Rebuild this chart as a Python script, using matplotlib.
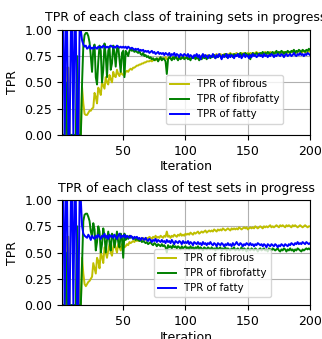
import matplotlib
matplotlib.use("Agg")
import matplotlib.pyplot as plt
import numpy as np

iterations = np.arange(1, 201)

# training TPR per class
train_fibrous = [
    0.0, 0.0, 0.0, 0.0, 0.64, 0.64, 0.0, 0.0, 0.0, 0.0, 0.0, 0.0, 0.45, 0.45, 0.0, 0.0, 0.45, 0.3, 0.2, 0.19,
    0.19, 0.21, 0.23, 0.23, 0.25, 0.26, 0.4, 0.36, 0.3, 0.45, 0.42, 0.38, 0.5, 0.47, 0.44, 0.55, 0.5, 0.48, 0.57, 0.53,
    0.5, 0.6, 0.56, 0.55, 0.62, 0.58, 0.56, 0.6, 0.58, 0.57, 0.57, 0.6, 0.61, 0.6, 0.62, 0.63, 0.62, 0.64, 0.64, 0.65,
    0.66, 0.66, 0.67, 0.67, 0.68, 0.68, 0.69, 0.69, 0.7, 0.7, 0.7, 0.71, 0.7, 0.71, 0.72, 0.71, 0.72, 0.72, 0.73, 0.72,
    0.73, 0.72, 0.73, 0.74, 0.72, 0.73, 0.74, 0.73, 0.72, 0.74, 0.73, 0.74, 0.73, 0.72, 0.74, 0.73, 0.74, 0.73, 0.74, 0.73,
    0.74, 0.73, 0.74, 0.75, 0.73, 0.74, 0.75, 0.74, 0.73, 0.75, 0.74, 0.75, 0.74, 0.75, 0.76, 0.74, 0.75, 0.76, 0.75, 0.74,
    0.75, 0.76, 0.75, 0.76, 0.77, 0.75, 0.76, 0.77, 0.76, 0.75, 0.77, 0.76, 0.77, 0.76, 0.77, 0.78, 0.76, 0.77, 0.76, 0.77,
    0.78, 0.77, 0.76, 0.77, 0.78, 0.77, 0.78, 0.77, 0.76, 0.78, 0.77, 0.78, 0.77, 0.78, 0.77, 0.78, 0.79, 0.77, 0.78, 0.77,
    0.78, 0.77, 0.78, 0.79, 0.78, 0.77, 0.78, 0.79, 0.78, 0.77, 0.78, 0.79, 0.78, 0.79, 0.78, 0.77, 0.79, 0.78, 0.79, 0.78,
    0.79, 0.78, 0.79, 0.78, 0.79, 0.8, 0.78, 0.79, 0.78, 0.79, 0.8, 0.79, 0.78, 0.79, 0.8, 0.79, 0.78, 0.79, 0.8, 0.79,
]
train_fibrofatty = [
    0.0, 0.0, 0.0, 0.5, 0.0, 0.0, 0.0, 0.0, 0.0, 0.0, 0.0, 0.0, 0.75, 0.0, 0.0, 0.0, 0.5, 0.85, 0.95, 0.97,
    0.97, 0.94, 0.88, 0.75, 0.6, 0.82, 0.86, 0.55, 0.48, 0.7, 0.85, 0.8, 0.5, 0.62, 0.87, 0.75, 0.55, 0.8, 0.84, 0.62,
    0.68, 0.85, 0.78, 0.65, 0.82, 0.84, 0.72, 0.6, 0.78, 0.8, 0.55, 0.8, 0.78, 0.75, 0.8, 0.82, 0.8, 0.81, 0.79, 0.8,
    0.79, 0.78, 0.8, 0.77, 0.76, 0.78, 0.75, 0.76, 0.74, 0.75, 0.73, 0.74, 0.72, 0.73, 0.71, 0.72, 0.73, 0.7, 0.72, 0.74,
    0.71, 0.73, 0.72, 0.7, 0.58, 0.72, 0.74, 0.73, 0.71, 0.74, 0.72, 0.75, 0.73, 0.71, 0.74, 0.72, 0.73, 0.75, 0.72, 0.73,
    0.74, 0.72, 0.73, 0.71, 0.74, 0.73, 0.75, 0.72, 0.74, 0.73, 0.71, 0.74, 0.72, 0.75, 0.73, 0.74, 0.72, 0.75, 0.74, 0.73,
    0.75, 0.74, 0.76, 0.73, 0.75, 0.74, 0.76, 0.75, 0.73, 0.76, 0.75, 0.77, 0.74, 0.76, 0.75, 0.77, 0.76, 0.74, 0.77, 0.76,
    0.75, 0.77, 0.76, 0.78, 0.75, 0.77, 0.76, 0.78, 0.77, 0.75, 0.77, 0.72, 0.76, 0.78, 0.77, 0.76, 0.78, 0.77, 0.76, 0.78,
    0.77, 0.79, 0.76, 0.78, 0.77, 0.79, 0.78, 0.76, 0.78, 0.79, 0.77, 0.78, 0.8, 0.77, 0.79, 0.78, 0.8, 0.79, 0.77, 0.79,
    0.78, 0.8, 0.79, 0.78, 0.8, 0.79, 0.81, 0.78, 0.8, 0.79, 0.81, 0.8, 0.79, 0.81, 0.8, 0.79, 0.81, 0.8, 0.82, 0.81,
]
train_fatty = [
    1.0, 1.0, 0.0, 1.0, 1.0, 0.0, 0.0, 1.0, 1.0, 0.0, 1.0, 1.0, 0.0, 0.0, 1.0, 1.0, 0.9, 0.86, 0.84, 0.85,
    0.82, 0.83, 0.85, 0.82, 0.83, 0.82, 0.84, 0.83, 0.82, 0.84, 0.83, 0.84, 0.83, 0.85, 0.84, 0.83, 0.84, 0.83, 0.84, 0.85,
    0.84, 0.83, 0.84, 0.83, 0.85, 0.84, 0.83, 0.84, 0.83, 0.84, 0.83, 0.84, 0.82, 0.84, 0.83, 0.82, 0.83, 0.82, 0.81, 0.82,
    0.81, 0.82, 0.8, 0.81, 0.8, 0.81, 0.79, 0.8, 0.79, 0.8, 0.78, 0.79, 0.8, 0.78, 0.79, 0.77, 0.78, 0.79, 0.77, 0.78,
    0.77, 0.78, 0.76, 0.78, 0.77, 0.76, 0.78, 0.75, 0.77, 0.76, 0.78, 0.75, 0.77, 0.76, 0.74, 0.77, 0.76, 0.75, 0.77, 0.76,
    0.75, 0.77, 0.74, 0.76, 0.75, 0.73, 0.76, 0.75, 0.77, 0.74, 0.76, 0.72, 0.75, 0.77, 0.74, 0.76, 0.75, 0.73, 0.76, 0.75,
    0.74, 0.77, 0.75, 0.73, 0.76, 0.74, 0.77, 0.75, 0.72, 0.76, 0.74, 0.75, 0.77, 0.73, 0.76, 0.74, 0.76, 0.75, 0.73, 0.76,
    0.75, 0.77, 0.74, 0.76, 0.73, 0.75, 0.77, 0.74, 0.76, 0.75, 0.73, 0.76, 0.74, 0.77, 0.75, 0.76, 0.74, 0.75, 0.77, 0.75,
    0.76, 0.74, 0.77, 0.75, 0.76, 0.74, 0.76, 0.75, 0.77, 0.76, 0.74, 0.76, 0.75, 0.77, 0.76, 0.75, 0.77, 0.76, 0.74, 0.76,
    0.77, 0.75, 0.76, 0.77, 0.75, 0.76, 0.78, 0.76, 0.75, 0.77, 0.76, 0.78, 0.76, 0.77, 0.75, 0.77, 0.76, 0.78, 0.77, 0.76,
]

# test TPR per class
test_fibrous = [
    0.0, 0.0, 0.0, 0.0, 0.65, 0.65, 0.0, 0.0, 0.0, 0.0, 0.0, 0.0, 0.45, 0.45, 0.0, 0.0, 0.45, 0.3, 0.2, 0.18,
    0.2, 0.22, 0.23, 0.25, 0.27, 0.4, 0.35, 0.3, 0.45, 0.42, 0.35, 0.5, 0.46, 0.4, 0.55, 0.5, 0.45, 0.52, 0.58, 0.5,
    0.47, 0.55, 0.6, 0.54, 0.5, 0.58, 0.55, 0.52, 0.58, 0.55, 0.55, 0.56, 0.58, 0.57, 0.6, 0.59, 0.6, 0.61, 0.6, 0.62,
    0.61, 0.62, 0.61, 0.63, 0.62, 0.64, 0.63, 0.62, 0.64, 0.63, 0.65, 0.64, 0.63, 0.65, 0.64, 0.66, 0.64, 0.65, 0.64, 0.66,
    0.65, 0.64, 0.66, 0.65, 0.7, 0.65, 0.66, 0.64, 0.66, 0.65, 0.67, 0.66, 0.65, 0.67, 0.66, 0.68, 0.66, 0.67, 0.66, 0.68,
    0.67, 0.68, 0.67, 0.69, 0.68, 0.67, 0.69, 0.68, 0.69, 0.7, 0.68, 0.69, 0.7, 0.69, 0.7, 0.71, 0.69, 0.7, 0.71, 0.7,
    0.71, 0.7, 0.72, 0.71, 0.7, 0.72, 0.71, 0.72, 0.71, 0.73, 0.72, 0.71, 0.72, 0.73, 0.72, 0.71, 0.73, 0.72, 0.73, 0.72,
    0.73, 0.72, 0.74, 0.73, 0.72, 0.73, 0.74, 0.73, 0.74, 0.72, 0.73, 0.74, 0.73, 0.74, 0.73, 0.75, 0.74, 0.73, 0.74, 0.75,
    0.74, 0.73, 0.75, 0.74, 0.75, 0.74, 0.75, 0.76, 0.74, 0.75, 0.74, 0.75, 0.76, 0.75, 0.74, 0.76, 0.75, 0.76, 0.75, 0.74,
    0.76, 0.75, 0.76, 0.75, 0.74, 0.76, 0.75, 0.76, 0.75, 0.74, 0.75, 0.76, 0.75, 0.74, 0.75, 0.76, 0.75, 0.74, 0.75, 0.75,
]
test_fibrofatty = [
    0.0, 0.0, 0.0, 0.5, 0.0, 0.0, 0.0, 0.0, 0.0, 0.0, 0.0, 0.0, 0.75, 0.0, 0.0, 0.0, 0.4, 0.8, 0.86, 0.87,
    0.87, 0.84, 0.8, 0.7, 0.65, 0.78, 0.72, 0.52, 0.6, 0.75, 0.7, 0.5, 0.58, 0.73, 0.66, 0.5, 0.62, 0.7, 0.6, 0.52,
    0.68, 0.66, 0.55, 0.62, 0.7, 0.6, 0.55, 0.68, 0.64, 0.45, 0.68, 0.62, 0.65, 0.63, 0.66, 0.64, 0.65, 0.63, 0.64, 0.62,
    0.63, 0.62, 0.61, 0.62, 0.6, 0.61, 0.6, 0.59, 0.6, 0.58, 0.59, 0.6, 0.58, 0.57, 0.59, 0.58, 0.56, 0.58, 0.57, 0.56,
    0.58, 0.56, 0.57, 0.55, 0.5, 0.57, 0.55, 0.56, 0.54, 0.57, 0.55, 0.56, 0.54, 0.56, 0.55, 0.53, 0.56, 0.54, 0.55, 0.56,
    0.54, 0.55, 0.53, 0.56, 0.54, 0.55, 0.53, 0.55, 0.54, 0.56, 0.53, 0.55, 0.54, 0.52, 0.55, 0.54, 0.53, 0.55, 0.54, 0.53,
    0.55, 0.53, 0.54, 0.52, 0.55, 0.53, 0.54, 0.55, 0.52, 0.54, 0.53, 0.55, 0.52, 0.54, 0.53, 0.52, 0.54, 0.53, 0.55, 0.52,
    0.53, 0.54, 0.52, 0.53, 0.55, 0.52, 0.54, 0.53, 0.51, 0.54, 0.53, 0.52, 0.54, 0.53, 0.52, 0.54, 0.53, 0.51, 0.53, 0.54,
    0.52, 0.53, 0.54, 0.52, 0.53, 0.51, 0.54, 0.53, 0.52, 0.54, 0.53, 0.52, 0.53, 0.54, 0.52, 0.51, 0.53, 0.52, 0.54, 0.53,
    0.51, 0.53, 0.52, 0.54, 0.52, 0.53, 0.51, 0.53, 0.52, 0.54, 0.53, 0.52, 0.51, 0.53, 0.52, 0.53, 0.54, 0.53, 0.54, 0.53,
]
test_fatty = [
    1.0, 1.0, 0.0, 1.0, 1.0, 0.0, 0.0, 1.0, 1.0, 0.0, 1.0, 1.0, 0.0, 0.0, 1.0, 1.0, 0.75, 0.68, 0.66, 0.65,
    0.64, 0.67, 0.65, 0.62, 0.66, 0.64, 0.63, 0.66, 0.64, 0.67, 0.65, 0.63, 0.66, 0.65, 0.68, 0.64, 0.66, 0.63, 0.67, 0.65,
    0.66, 0.64, 0.67, 0.65, 0.63, 0.66, 0.68, 0.64, 0.66, 0.65, 0.67, 0.64, 0.66, 0.65, 0.64, 0.66, 0.65, 0.63, 0.65, 0.64,
    0.65, 0.63, 0.64, 0.62, 0.64, 0.63, 0.62, 0.64, 0.62, 0.61, 0.63, 0.62, 0.6, 0.62, 0.61, 0.63, 0.6, 0.62, 0.61, 0.6,
    0.62, 0.6, 0.61, 0.59, 0.62, 0.6, 0.61, 0.59, 0.62, 0.6, 0.58, 0.61, 0.6, 0.59, 0.61, 0.6, 0.58, 0.61, 0.59, 0.6,
    0.59, 0.61, 0.58, 0.6, 0.59, 0.57, 0.6, 0.59, 0.58, 0.6, 0.58, 0.59, 0.57, 0.6, 0.58, 0.59, 0.57, 0.59, 0.58, 0.6,
    0.58, 0.57, 0.59, 0.58, 0.56, 0.59, 0.58, 0.57, 0.59, 0.58, 0.56, 0.58, 0.57, 0.59, 0.57, 0.58, 0.56, 0.59, 0.57, 0.58,
    0.6, 0.58, 0.57, 0.59, 0.58, 0.56, 0.58, 0.57, 0.59, 0.58, 0.57, 0.59, 0.57, 0.58, 0.56, 0.58, 0.57, 0.59, 0.58, 0.57,
    0.58, 0.56, 0.58, 0.57, 0.55, 0.58, 0.57, 0.56, 0.58, 0.57, 0.56, 0.58, 0.57, 0.55, 0.57, 0.56, 0.58, 0.57, 0.56, 0.58,
    0.57, 0.56, 0.58, 0.57, 0.59, 0.58, 0.57, 0.59, 0.58, 0.6, 0.58, 0.59, 0.58, 0.6, 0.59, 0.58, 0.6, 0.59, 0.58, 0.59,
]

labels = ["TPR of fibrous", "TPR of fibrofatty", "TPR of fatty"]
colors = ["y", "g", "b"]


def draw_panel(ax, series, title, legend_anchor):
    for vals, lab, col in zip(series, labels, colors):
        ax.plot(iterations, vals, color=col, label=lab, linewidth=1.4)
    ax.set_xlim(1, 200)
    ax.set_ylim(0, 1)
    ax.set_xticks([50, 100, 150, 200])
    ax.set_yticks([0, 0.25, 0.5, 0.75, 1.0])
    ax.set_yticklabels(["0.00", "0.25", "0.50", "0.75", "1.00"])
    ax.grid(True, color="#b0b0b0", linewidth=0.8)
    ax.set_title(title, fontsize=9, pad=6)
    ax.set_xlabel("Iteration", fontsize=9, labelpad=2)
    ax.set_ylabel("TPR", fontsize=9, labelpad=4)
    ax.tick_params(labelsize=9)
    ax.legend(loc="lower left", bbox_to_anchor=legend_anchor, fontsize=7.3,
              handlelength=1.8, borderpad=0.4, labelspacing=0.5)


fig = plt.figure(figsize=(3.22, 3.39), dpi=100)
ax1 = fig.add_axes([0.193, 0.602, 0.77, 0.31])
ax2 = fig.add_axes([0.193, 0.100, 0.77, 0.31])
draw_panel(ax1, [train_fibrous, train_fibrofatty, train_fatty],
           "TPR of each class of training sets in progress", (0.40, 0.06))
draw_panel(ax2, [test_fibrous, test_fibrofatty, test_fatty],
           "TPR of each class of test sets in progress", (0.35, 0.025))

fig.savefig("out.png", dpi=100)
